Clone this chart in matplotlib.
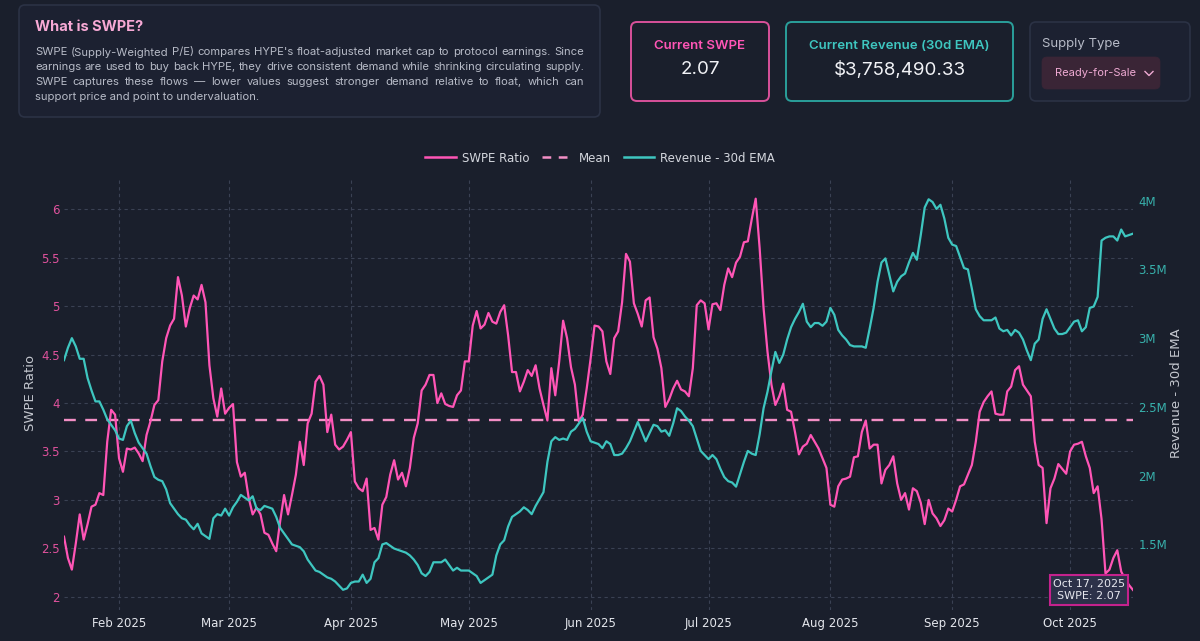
import numpy as np
import pandas as pd
import matplotlib
matplotlib.use("Agg")
import matplotlib.pyplot as plt
from matplotlib.patches import FancyBboxPatch
from matplotlib.lines import Line2D
from matplotlib.ticker import FuncFormatter

W, H = 1200, 641

# daily series, Jan 18 2025 -> Oct 17 2025
dates = pd.date_range("2025-01-18", "2025-10-17", freq="D")

swpe = [
    2.62, 2.40, 2.28, 2.55, 2.85, 2.59, 2.75, 2.93, 2.95, 3.07,
    3.05, 3.60, 3.93, 3.88, 3.43, 3.29, 3.53, 3.52, 3.54, 3.48,
    3.40, 3.67, 3.81, 3.98, 4.03, 4.43, 4.67, 4.80, 4.87, 5.30,
    5.11, 4.79, 4.98, 5.11, 5.07, 5.22, 5.04, 4.39, 4.05, 3.86,
    4.15, 3.89, 3.95, 3.99, 3.39, 3.24, 3.28, 3.02, 2.85, 2.92,
    2.85, 2.66, 2.64, 2.55, 2.47, 2.78, 3.05, 2.85, 3.05, 3.26,
    3.60, 3.36, 3.79, 3.89, 4.22, 4.28, 4.19, 3.70, 3.88, 3.57,
    3.52, 3.55, 3.62, 3.70, 3.19, 3.12, 3.09, 3.22, 2.69, 2.71,
    2.59, 2.95, 3.03, 3.26, 3.41, 3.21, 3.28, 3.14, 3.33, 3.64,
    3.79, 4.13, 4.19, 4.29, 4.29, 4.00, 4.10, 3.99, 3.97, 3.96,
    4.08, 4.13, 4.43, 4.43, 4.80, 4.95, 4.77, 4.81, 4.93, 4.84,
    4.82, 4.94, 5.01, 4.70, 4.32, 4.32, 4.12, 4.22, 4.34, 4.28,
    4.39, 4.15, 3.98, 3.82, 4.36, 4.08, 4.43, 4.85, 4.67, 4.37,
    4.19, 3.81, 3.88, 4.15, 4.46, 4.80, 4.79, 4.74, 4.43, 4.30,
    4.67, 4.74, 5.04, 5.54, 5.46, 5.03, 4.92, 4.79, 5.06, 5.09,
    4.68, 4.56, 4.36, 3.96, 4.04, 4.15, 4.23, 4.14, 4.12, 4.07,
    4.36, 5.01, 5.06, 5.03, 4.76, 5.02, 5.03, 4.96, 5.22, 5.39,
    5.30, 5.45, 5.51, 5.66, 5.67, 5.90, 6.11, 5.60, 4.98, 4.53,
    4.19, 3.98, 4.07, 4.20, 3.93, 3.91, 3.70, 3.47, 3.55, 3.58,
    3.67, 3.60, 3.53, 3.43, 3.33, 2.95, 2.93, 3.14, 3.21, 3.22,
    3.24, 3.44, 3.45, 3.70, 3.82, 3.53, 3.57, 3.57, 3.17, 3.31,
    3.36, 3.45, 3.17, 3.00, 3.07, 2.90, 3.12, 3.09, 2.97, 2.75,
    3.00, 2.86, 2.81, 2.73, 2.79, 2.91, 2.88, 3.00, 3.14, 3.16,
    3.26, 3.36, 3.60, 3.91, 4.01, 4.07, 4.12, 3.89, 3.88, 3.88,
    4.12, 4.17, 4.34, 4.38, 4.19, 4.13, 4.07, 3.60, 3.36, 3.33,
    2.76, 3.12, 3.22, 3.37, 3.32, 3.27, 3.50, 3.57, 3.58, 3.60,
    3.45, 3.33, 3.07, 3.14, 2.80, 2.24, 2.28, 2.40, 2.48, 2.26,
    2.18, 2.12, 2.07,
]

# revenue 30d EMA, millions USD
revenue = [
    2.84, 2.93, 3.00, 2.94, 2.85, 2.85, 2.71, 2.62, 2.54, 2.54,
    2.48, 2.41, 2.37, 2.33, 2.27, 2.26, 2.36, 2.40, 2.31, 2.24,
    2.20, 2.16, 2.07, 1.99, 1.97, 1.96, 1.90, 1.80, 1.76, 1.72,
    1.69, 1.68, 1.64, 1.61, 1.65, 1.58, 1.56, 1.54, 1.69, 1.72,
    1.71, 1.76, 1.71, 1.77, 1.81, 1.86, 1.84, 1.82, 1.85, 1.76,
    1.75, 1.78, 1.77, 1.76, 1.70, 1.62, 1.58, 1.54, 1.50, 1.49,
    1.48, 1.45, 1.39, 1.35, 1.31, 1.30, 1.28, 1.26, 1.25, 1.23,
    1.20, 1.17, 1.18, 1.22, 1.23, 1.23, 1.28, 1.22, 1.25, 1.37,
    1.40, 1.50, 1.51, 1.49, 1.47, 1.46, 1.45, 1.44, 1.42, 1.39,
    1.35, 1.29, 1.27, 1.30, 1.37, 1.37, 1.37, 1.39, 1.35, 1.31,
    1.33, 1.31, 1.31, 1.31, 1.29, 1.27, 1.22, 1.24, 1.26, 1.28,
    1.42, 1.50, 1.53, 1.63, 1.70, 1.72, 1.74, 1.77, 1.75, 1.72,
    1.78, 1.83, 1.88, 2.10, 2.25, 2.28, 2.26, 2.27, 2.26, 2.32,
    2.34, 2.38, 2.42, 2.32, 2.25, 2.24, 2.23, 2.20, 2.25, 2.23,
    2.15, 2.15, 2.16, 2.20, 2.25, 2.32, 2.39, 2.32, 2.25, 2.31,
    2.37, 2.36, 2.32, 2.33, 2.29, 2.38, 2.49, 2.47, 2.43, 2.40,
    2.36, 2.27, 2.18, 2.15, 2.12, 2.15, 2.12, 2.05, 1.99, 1.96,
    1.95, 1.92, 2.01, 2.10, 2.18, 2.16, 2.15, 2.30, 2.49, 2.61,
    2.76, 2.90, 2.82, 2.88, 2.99, 3.08, 3.14, 3.19, 3.25, 3.12,
    3.08, 3.11, 3.11, 3.09, 3.12, 3.22, 3.17, 3.06, 3.02, 2.99,
    2.95, 2.94, 2.94, 2.94, 2.93, 3.07, 3.22, 3.41, 3.55, 3.58,
    3.46, 3.34, 3.41, 3.45, 3.47, 3.55, 3.62, 3.57, 3.75, 3.95,
    4.01, 3.99, 3.94, 3.97, 3.87, 3.73, 3.68, 3.67, 3.59, 3.51,
    3.50, 3.36, 3.21, 3.16, 3.13, 3.13, 3.13, 3.15, 3.07, 3.05,
    3.06, 3.02, 3.06, 3.04, 2.99, 2.91, 2.84, 2.96, 2.99, 3.14,
    3.21, 3.14, 3.07, 3.03, 3.03, 3.04, 3.08, 3.12, 3.13, 3.05,
    3.08, 3.22, 3.23, 3.30, 3.71, 3.73, 3.74, 3.74, 3.71, 3.79,
    3.74, 3.75, 3.76,
]

swpe_mean = 3.82
current_swpe = "2.07"
current_revenue = "$3,758,490.33"
month_ticks = pd.date_range("2025-02-01", "2025-10-01", freq="MS")
swpe_ticks = [2, 2.5, 3, 3.5, 4, 4.5, 5, 5.5, 6]
rev_ticks = [1.5, 2, 2.5, 3, 3.5, 4]

BG = "#1a1f2c"
PINK = "#ff55b6"
MEAN = "#f38fc6"
TEAL = "#3ec6c0"
GRID = "#3a4153"

fig = plt.figure(figsize=(W / 100, H / 100), dpi=100, facecolor=BG)

# pixel-space overlay for the header cards and free text
bg = fig.add_axes([0, 0, 1, 1])
bg.set_xlim(0, W)
bg.set_ylim(H, 0)
bg.axis("off")
bg.set_zorder(-1)


def card(x0, y0, x1, y1, fc, ec, lw=1.2, r=6):
    bg.add_patch(FancyBboxPatch((x0, y0), x1 - x0, y1 - y0,
                                boxstyle="round,pad=0,rounding_size=%d" % r,
                                fc=fc, ec=ec, lw=lw))


# info box
card(19, 5, 600, 117, "#1c2131", "#2b3245")
bg.text(35, 27, "What is SWPE?", color="#f7a9d5", fontsize=10.5,
        fontweight="bold", family="Inter", va="center")

body = [
    "SWPE (Supply-Weighted P/E) compares HYPE's float-adjusted market cap to protocol earnings. Since",
    "earnings are used to buy back HYPE, they drive consistent demand while shrinking circulating supply.",
    "SWPE captures these flows \u2014 lower values suggest stronger demand relative to float, which can",
    "support price and point to undervaluation.",
]
body_y = [52, 67.5, 82, 97.5]
renderer = fig.canvas.get_renderer()
tkw = dict(color="#b7bbc7", fontsize=8.1, family="Inter", va="center")
for i, (line, y) in enumerate(zip(body, body_y)):
    if i == len(body) - 1:
        bg.text(35, y, line, **tkw)
        continue
    words = line.split()
    texts = [bg.text(35, y, w, **tkw) for w in words]
    widths = [t.get_window_extent(renderer).width for t in texts]
    gap = (584 - 35 - sum(widths)) / (len(words) - 1)
    x = 35
    for t, w in zip(texts, widths):
        t.set_x(x)
        x += w + gap

# stat cards
card(631, 22, 769, 101, BG, "#d9519a", lw=1.4)
bg.text(700, 46, "Current SWPE", color=PINK, fontsize=9.5, family="Inter",
        fontweight="semibold", ha="center", va="center")
bg.text(700, 70, current_swpe, color="#f1f2f6", fontsize=13.5, family="Inter",
        ha="center", va="center")

card(786, 22, 1013, 101, BG, "#2a9f9b", lw=1.4)
bg.text(899.5, 46, "Current Revenue (30d EMA)", color=TEAL, fontsize=9.5,
        family="Inter", fontweight="semibold", ha="center", va="center")
bg.text(899.5, 70, current_revenue, color="#f1f2f6", fontsize=13.5,
        family="Inter", ha="center", va="center")

card(1030, 22, 1190, 101, "#1c2131", "#2b3245")
bg.text(1042, 44, "Supply Type", color="#b7bbc7", fontsize=9.5,
        family="Inter", va="center")
card(1042, 57, 1160, 89, "#3a2536", "#3a2536", lw=0.5, r=5)
bg.text(1055, 73.5, "Ready-for-Sale", color="#efaad3", fontsize=8,
        family="Inter", va="center")
bg.plot([1145, 1149, 1153], [71.5, 75.5, 71.5], color="#efaad3", lw=1)

# axis titles
bg.text(30, 393, "SWPE Ratio", rotation=90, color="#c3c6ce", fontsize=9.5,
        ha="center", va="center")
bg.text(1176, 393, "Revenue - 30d EMA", rotation=90, color="#c3c6ce",
        fontsize=9.5, ha="center", va="center")

# main chart
ax = fig.add_axes([64 / W, 1 - 610 / H, (1133 - 64) / W, (610 - 177) / H])
ax.set_facecolor("none")
ax2 = ax.twinx()

ax.plot(dates, swpe, color=PINK, lw=1.6, zorder=3, solid_joinstyle="round")
ax.axhline(swpe_mean, color=MEAN, lw=1.7, ls=(0, (5, 4)), zorder=2)
ax2.plot(dates, revenue, color=TEAL, lw=1.6, zorder=3, solid_joinstyle="round")

ax.set_xlim(dates[0], dates[-1])
ax.set_ylim(1.863, 6.334)
ax2.set_ylim(1.023, 4.172)

ax.set_xticks(month_ticks)
ax.set_xticklabels([d.strftime("%b %Y") for d in month_ticks])
ax.set_yticks(swpe_ticks)
ax.yaxis.set_major_formatter(FuncFormatter(lambda v, p: "%g" % v))
ax2.set_yticks(rev_ticks)
ax2.yaxis.set_major_formatter(FuncFormatter(lambda v, p: "%gM" % v))

ax.grid(True, color=GRID, lw=0.8, ls=(0, (3, 3)))
ax.tick_params(axis="x", length=0, pad=5, colors="#e4e6ec", labelsize=8.5)
ax.tick_params(axis="y", length=0, pad=3, colors="#e0529d", labelsize=8.5)
ax2.tick_params(axis="y", length=0, pad=4, colors="#38b1ac", labelsize=8.5)
for a in (ax, ax2):
    for s in a.spines.values():
        s.set_visible(False)

# hover tooltip on the last point
fig.text(1089 / W, 1 - 590 / H, "Oct 17, 2025\nSWPE: 2.07", color="#e6e7ee",
         fontsize=8, ha="center", va="center", linespacing=1.35,
         bbox=dict(boxstyle="square,pad=0.3", fc="#2c3149", ec="#c4228d", lw=1.5))

handles = [
    Line2D([], [], color=PINK, lw=1.8),
    Line2D([], [], color=MEAN, lw=1.8, ls=(0, (3.5, 3))),
    Line2D([], [], color=TEAL, lw=1.8),
]
fig.legend(handles, ["SWPE Ratio", "Mean", "Revenue - 30d EMA"],
           loc="center", bbox_to_anchor=(0.5, 1 - 158 / H), ncol=3,
           frameon=False, fontsize=8.5, labelcolor="#d4d7de",
           handlelength=2.6, handletextpad=0.5, columnspacing=1.1)

fig.savefig("out.png", dpi=100, facecolor=BG)
